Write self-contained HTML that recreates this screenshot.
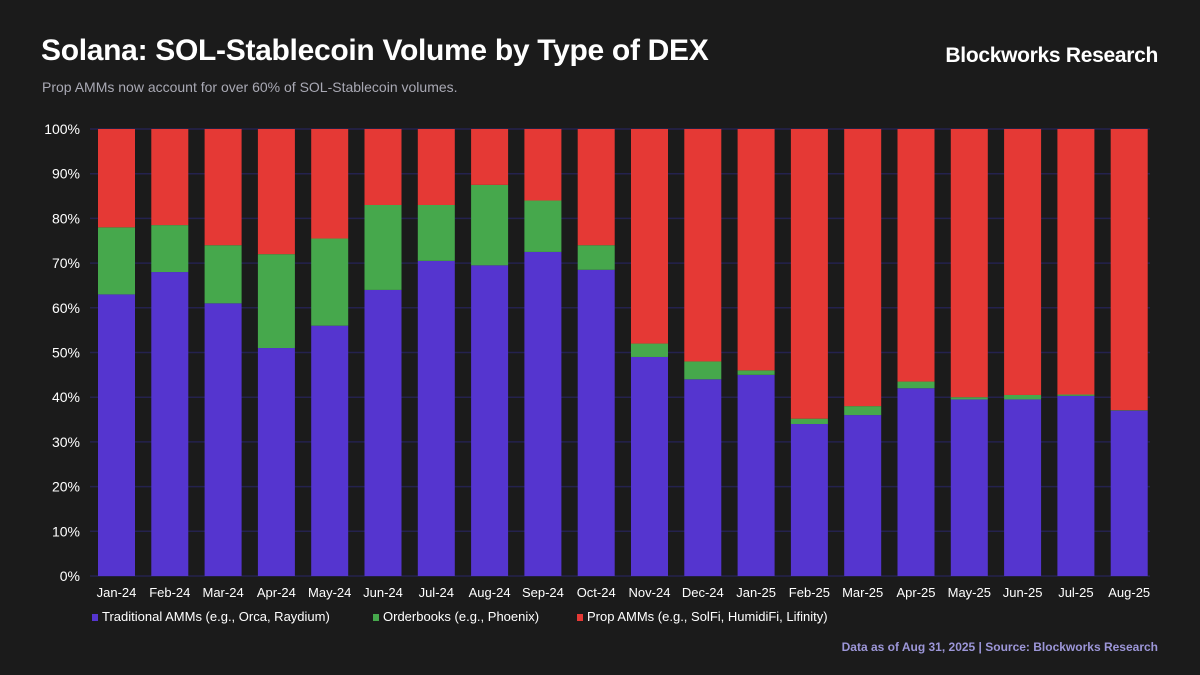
<!DOCTYPE html>
<html><head><meta charset="utf-8"><style>
body{margin:0;width:1200px;height:675px;background:#1b1b1b;font-family:"Liberation Sans",sans-serif;overflow:hidden;position:relative}
.t{position:absolute;color:#fff}
</style></head><body>
<div class="t" style="left:41px;top:34px;font-size:30px;font-weight:bold;letter-spacing:-0.3px">Solana: SOL-Stablecoin Volume by Type of DEX</div>
<div class="t" style="right:42px;top:44px;font-size:21px;font-weight:bold;letter-spacing:-0.3px">Blockworks Research</div>
<div class="t" style="left:42px;top:79px;font-size:14px;color:#a9a9b4">Prop AMMs now account for over 60% of SOL-Stablecoin volumes.</div>
<div class="t" style="right:42px;top:640px;font-size:12px;color:#9c96d8;font-weight:bold">Data as of Aug 31, 2025 | Source: Blockworks Research</div>
<svg id="c" width="1200" height="675" style="position:absolute;left:0;top:0"></svg>
<script>
const categories=["Jan-24","Feb-24","Mar-24","Apr-24","May-24","Jun-24","Jul-24","Aug-24","Sep-24","Oct-24","Nov-24","Dec-24","Jan-25","Feb-25","Mar-25","Apr-25","May-25","Jun-25","Jul-25","Aug-25"];
const traditional=[63,68,61,51,56,64,70.5,69.5,72.5,68.5,49,44,45,34,36,42,39.5,39.5,40.3,37];
const orderbooks=[15,10.5,13,21,19.5,19,12.5,18,11.5,5.5,3,4,1,1.2,2,1.5,0.5,1,0.3,0.1];
const propAmms=traditional.map((t,i)=>100-t-orderbooks[i]);
const yTicks=[0,10,20,30,40,50,60,70,80,90,100];
const ns="http://www.w3.org/2000/svg",svg=document.getElementById('c');
const y=v=>576-v*4.47, x=i=>98+i*53.3, bw=37;
function mk(t,a){const e=document.createElementNS(ns,t);for(const k in a)e.setAttribute(k,a[k]);svg.appendChild(e);return e;}
yTicks.forEach(v=>{
 const g=mk('line',{x1:90,x2:1150,y1:y(v),y2:y(v),stroke:'#24224e','stroke-width':1.5});
 
 
 const t=mk('text',{x:80,y:y(v)+5,'text-anchor':'end',fill:'#fff','font-size':14});
 t.textContent=v+'%';
 
 
});
const series=[[traditional,'#5535cf','traditional'],[orderbooks,'#46a84c','orderbooks'],[propAmms,'#e53935','prop']];
categories.forEach((c,i)=>{
 let base=0;
 series.forEach(([arr,col,nm])=>{
  const v=arr[i];
  const r=mk('rect',{x:x(i),y:y(base+v),width:bw,height:Math.max(0,y(base)-y(base+v)),fill:col});
  
  
  base+=v;
 });
 const t=mk('text',{x:x(i)+bw/2,y:597,'text-anchor':'middle',fill:'#fff','font-size':13});
 t.textContent=c;
 
 
});
const leg=[['Traditional AMMs (e.g., Orca, Raydium)','#5535cf',92],['Orderbooks (e.g., Phoenix)','#46a84c',373],['Prop AMMs (e.g., SolFi, HumidiFi, Lifinity)','#e53935',577]];
leg.forEach(([l,c,lx])=>{
 const r=mk('rect',{x:lx,y:614,width:6,height:7,fill:c});
 
 
 const t=mk('text',{x:lx+10,y:621,fill:'#fff','font-size':13});
 t.textContent=l;
 
 
});
</script>
</body></html>
